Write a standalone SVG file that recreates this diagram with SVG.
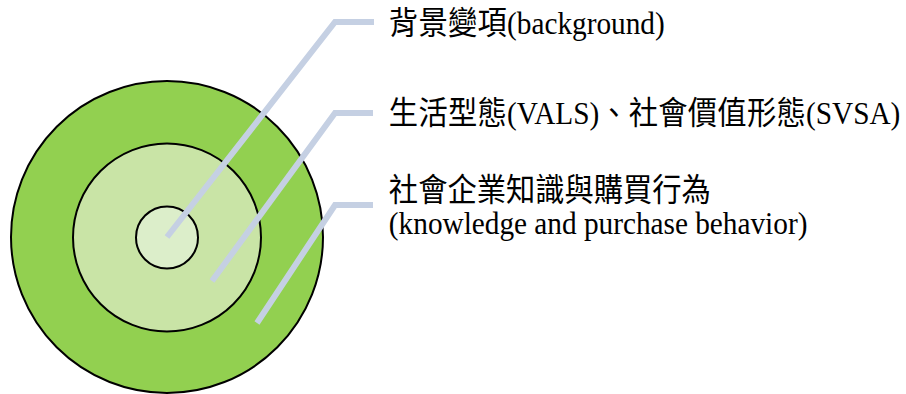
<svg xmlns="http://www.w3.org/2000/svg" width="906" height="394" viewBox="0 0 906 394">
<style>
.ring{stroke:#000;stroke-width:2}
.lead{fill:none;stroke:#C5D0E3;stroke-width:6;stroke-linejoin:miter;stroke-linecap:butt}
.lbl{font-family:"Liberation Serif","Noto Sans CJK TC",serif;font-size:32px;fill:#000}
.cjk{letter-spacing:0.3px}
</style>
<rect width="906" height="394" fill="#fff"/>
<g id="outer"><circle class="ring" cx="167" cy="237" r="156" fill="#92D050"/></g>
<g id="middle"><circle class="ring" cx="167" cy="237.5" r="94" fill="#C9E4A6"/></g>
<g id="inner"><circle class="ring" cx="167" cy="237.5" r="31" fill="#DCEECA"/></g>
<g id="connectors">
<polyline class="lead" points="167,237 335,22 374,22"/>
<polyline class="lead" points="212,281 335,113 373,113"/>
<polyline class="lead" points="257,323 335,205 373,205"/>
</g>
<g id="label-background" transform="scale(0.915 1)"><text class="lbl" x="425" y="34"><tspan class="cjk">背景變項</tspan>(background)</text></g>
<g id="label-vals" transform="scale(0.915 1)"><text class="lbl" x="425" y="124"><tspan class="cjk">生活型態</tspan>(VALS)<tspan class="cjk">、社會價值形態</tspan>(SVSA)</text></g>
<g id="label-knowledge" transform="scale(0.915 1)"><text class="lbl" x="425" y="201">社會企業知識與購買行為</text><text class="lbl" x="425" y="234">(knowledge and purchase behavior)</text></g>
</svg>
